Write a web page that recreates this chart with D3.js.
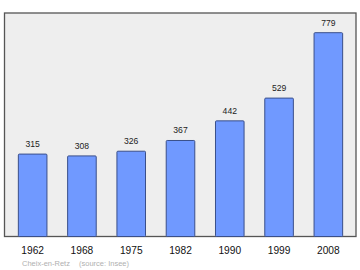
<!DOCTYPE html>
<meta charset="utf-8">
<style>
body { margin: 0; background: #fff; }
text { font-family: "Liberation Sans", Arial, sans-serif; }
</style>
<svg width="360" height="270" id="chart"></svg>
<script src="https://cdn.jsdelivr.net/npm/d3@7"></script>
<script>

var years = ["1962", "1968", "1975", "1982", "1990", "1999", "2008"];
var population = [315, 308, 326, 367, 442, 529, 779];
var commune = "Cheix-en-Retz";
var source = "(source: Insee)";

var svg = d3.select("svg");

// plot frame
var frame = {left: 4.5, top: 13, right: 356, bottom: 236.5};

svg.append("rect")
    .attr("x", frame.left)
    .attr("y", frame.top)
    .attr("width", frame.right - frame.left)
    .attr("height", frame.bottom - frame.top)
    .attr("fill", "#eeeeee")
    .attr("stroke", "#555")
    .attr("stroke-width", 1.3);

var x = d3.scaleBand()
    .domain(years)
    .range([8.5, 352.5])
    .paddingInner(0.42)
    .paddingOuter(0.2);

var y = d3.scaleLinear()
    .domain([0, 779])
    .range([frame.bottom, 32.7]);

svg.append("g")
  .selectAll("rect")
  .data(population)
  .enter().append("rect")
    .attr("x", function(d, i) { return x(years[i]); })
    .attr("y", function(d) { return y(d); })
    .attr("width", x.bandwidth())
    .attr("height", function(d) { return y(0) - y(d); })
    .attr("fill", "#7099ff")
    .attr("stroke", "#3a4f8a")
    .attr("stroke-width", 1)
    .attr("rx", 1);

// value labels
svg.append("g")
  .selectAll("text")
  .data(population)
  .enter().append("text")
    .attr("x", function(d, i) { return x(years[i]) + x.bandwidth() / 2; })
    .attr("y", function(d) { return y(d) - 7; })
    .attr("text-anchor", "middle")
    .attr("font-size", 8.6)
    .attr("fill", "#222")
    .text(function(d) { return d; });

// year axis
var axis = svg.append("g")
    .attr("transform", "translate(0," + frame.bottom + ")")
    .call(d3.axisBottom(x).tickSize(0).tickPadding(10));
axis.select(".domain").remove();
axis.selectAll("text")
    .attr("font-size", 10.2)
    .attr("font-family", "\"Liberation Sans\", Arial, sans-serif")
    .attr("fill", "#111");

svg.append("text")
    .attr("x", 22)
    .attr("y", 265.5)
    .attr("font-size", 7.5)
    .attr("fill", "#b0b0b0")
    .text(commune);

svg.append("text")
    .attr("x", 79)
    .attr("y", 265.5)
    .attr("font-size", 7.5)
    .attr("fill", "#b0b0b0")
    .text(source);

</script>
